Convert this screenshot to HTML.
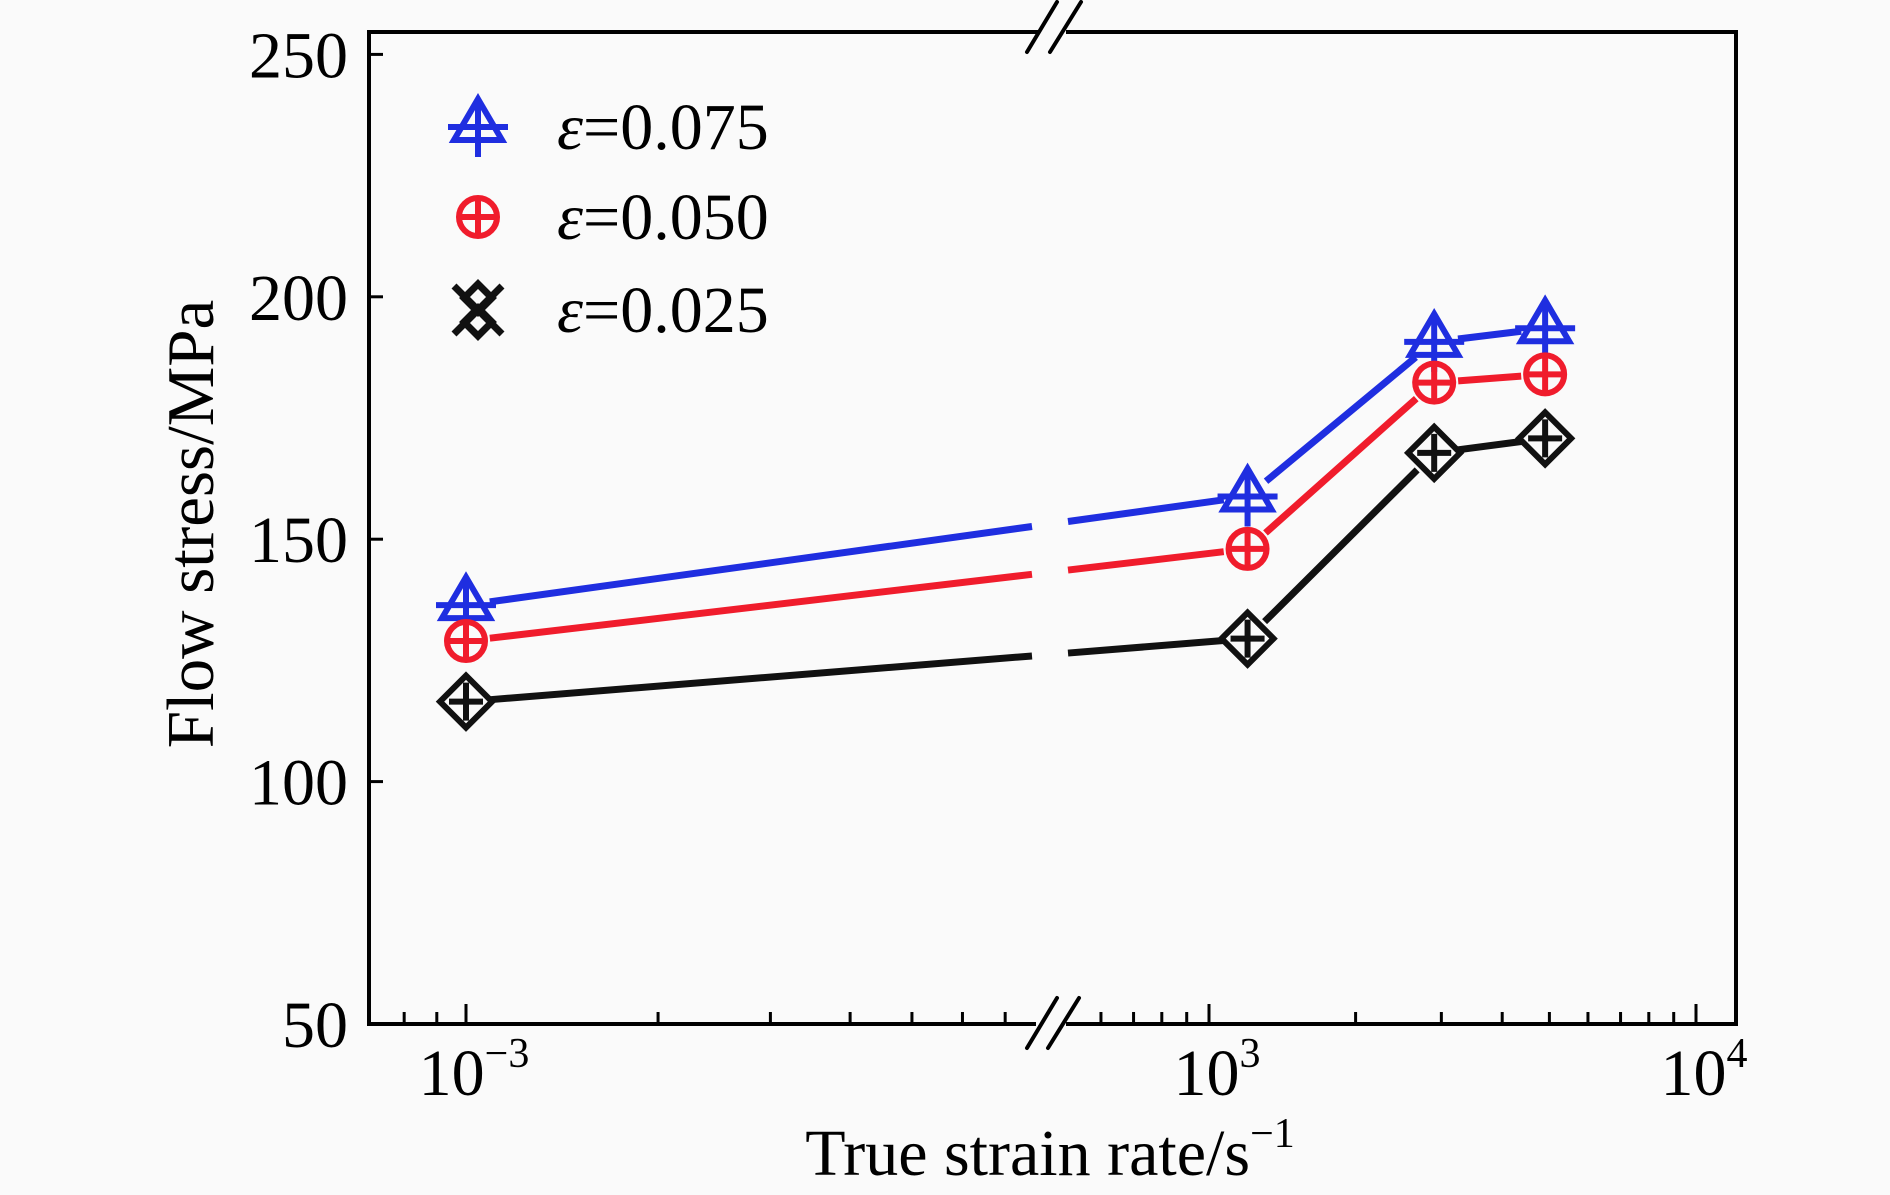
<!DOCTYPE html>
<html><head><meta charset="utf-8"><style>
html,body{margin:0;padding:0;background:#fafafa;}
svg{display:block;font-family:"Liberation Serif",serif;}
</style></head><body>
<svg id="chart" width="1890" height="1195" viewBox="0 0 1890 1195" xmlns="http://www.w3.org/2000/svg"></svg>
<script>
const rates = [0.001, 1200, 2900, 4900];
const stress075 = [136.4, 158.8, 190.7, 193.5];
const stress050 = [129, 148, 182.3, 184];
const stress025 = [116.5, 129.5, 167.8, 170.8];
const yTicks = [50, 100, 150, 200, 250];
const legendLabels = ['=0.075', '=0.050', '=0.025'];

const NS = 'http://www.w3.org/2000/svg';
const svg = document.getElementById('chart');
const L = 369, R = 1736, T = 32, B = 1024;
function yS(v){ return 1024 - (v - 50) * 242.4 / 50; }
function xS(v){
  if (v < 1) return 466 + 638 * Math.log10(v / 0.001);
  return 1209 + 487 * Math.log10(v / 1000);
}
function el(tag, attrs, parent){
  const e = document.createElementNS(NS, tag);
  for (const k in attrs) e.setAttribute(k, attrs[k]);
  (parent || svg).appendChild(e);
  return e;
}
const axes = el('g', {});


el('line', {x1:L, y1:T, x2:1038, y2:T, stroke:'#000', 'stroke-width':4}, axes);
el('line', {x1:1066, y1:T, x2:R, y2:T, stroke:'#000', 'stroke-width':4}, axes);
el('line', {x1:L, y1:B, x2:1036, y2:B, stroke:'#000', 'stroke-width':4}, axes);
el('line', {x1:1066, y1:B, x2:R, y2:B, stroke:'#000', 'stroke-width':4}, axes);
el('line', {x1:L, y1:T-2, x2:L, y2:B+2, stroke:'#000', 'stroke-width':4}, axes);
el('line', {x1:R, y1:T-2, x2:R, y2:B+2, stroke:'#000', 'stroke-width':4}, axes);
[[1027,52,1057,2],[1050,52,1081,2],[1027,1048,1057,998],[1048,1048,1079,998]].forEach(s=>{
  const b = el('line', {x1:s[0], y1:s[1], x2:s[2], y2:s[3], stroke:'#000', 'stroke-width':4, 'stroke-linecap':'round'}, axes);
  
  
});
yTicks.forEach(v=>{
  const y = yS(v);
  el('line', {x1:L, y1:y, x2:L+14, y2:y, stroke:'#000', 'stroke-width':3}, axes);
  const t = el('text', {x:348, y:y+23, 'text-anchor':'end', 'font-size':66}, axes);
  t.textContent = v;
  
  
});
const minorL = [0.0008,0.0009,0.002,0.003,0.004,0.005,0.006,0.007];
const minorR = [600,700,800,900,2000,3000,4000,5000,6000,7000,8000,9000];
minorL.concat(minorR).forEach(v=>{
  const x = xS(v);
  el('line', {x1:x, y1:B, x2:x, y2:B-12, stroke:'#000', 'stroke-width':3}, axes);
});
[0.001,1000,10000].forEach(v=>{
  const x = xS(v);
  el('line', {x1:x, y1:B, x2:x, y2:B-20, stroke:'#000', 'stroke-width':3}, axes);
});
const xl = [[0.001,'\u22123'],[1000,'3'],[10000,'4']];
xl.forEach(p=>{
  const t = el('text', {x:xS(p[0])+8, y:1095, 'text-anchor':'middle', 'font-size':66}, axes);
  
  
  const a = el('tspan', {}, t); a.textContent = '10';
  const b = el('tspan', {dy:-28, 'font-size':42}, t); b.textContent = p[1];
});
const xt = el('text', {x:1050, y:1175, 'text-anchor':'middle', 'font-size':66});


el('tspan', {}, xt).textContent = 'True strain rate/s';
el('tspan', {dy:-28, 'font-size':42}, xt).textContent = '\u22121';
const yt = el('text', {x:0, y:0, 'text-anchor':'middle', 'font-size':67, transform:'translate(213,524) rotate(-90)'});
yt.textContent = 'Flow stress/MPa';



function marker(kind, cx, cy, color, parent){
  const g = el('g', {fill:'none', stroke:color, 'stroke-width':6}, parent);
  if (kind === 'tri'){
    el('polygon', {points:`${cx},${cy-28} ${cx+24},${cy+13} ${cx-24},${cy+13}`}, g);
    el('line', {x1:cx-30, y1:cy, x2:cx+30, y2:cy}, g);
    el('line', {x1:cx, y1:cy-28, x2:cx, y2:cy+30}, g);
  } else if (kind === 'circ'){
    el('circle', {cx:cx, cy:cy, r:19}, g);
    el('line', {x1:cx-19, y1:cy, x2:cx+19, y2:cy}, g);
    el('line', {x1:cx, y1:cy-19, x2:cx, y2:cy+19}, g);
  } else {
    el('polygon', {points:`${cx},${cy-26} ${cx+26},${cy} ${cx},${cy+26} ${cx-26},${cy}`}, g);
    el('line', {x1:cx-17, y1:cy, x2:cx+17, y2:cy}, g);
    el('line', {x1:cx, y1:cy-19, x2:cx, y2:cy+19}, g);
  }
  return g;
}
const series = [
  {name:'series-eps-0.075', vals:stress075, color:'#1f2ee0', kind:'tri'},
  {name:'series-eps-0.050', vals:stress050, color:'#f01c2c', kind:'circ'},
  {name:'series-eps-0.025', vals:stress025, color:'#111111', kind:'dia'}
];
series.forEach(s=>{
  const g = el('g', {});
  
  
  const pts = rates.map((r,i)=>[xS(r), yS(s.vals[i])]);
  for (let i=0;i<pts.length-1;i++){
    const [x1,y1] = pts[i], [x2,y2] = pts[i+1];
    const dx=x2-x1, dy=y2-y1, len=Math.hypot(dx,dy), ux=dx/len, uy=dy/len;
    const sx=x1+ux*24, sy=y1+uy*24, ex=x2-ux*24, ey=y2-uy*24;
    if (x1 < 1040 && x2 > 1066){
      const t1=(1032-x1)/dx, t2=(1068-x1)/dx;
      el('line', {x1:sx, y1:sy, x2:1032, y2:y1+dy*t1, stroke:s.color, 'stroke-width':7}, g);
      el('line', {x1:1068, y1:y1+dy*t2, x2:ex, y2:ey, stroke:s.color, 'stroke-width':7}, g);
    } else {
      el('line', {x1:sx, y1:sy, x2:ex, y2:ey, stroke:s.color, 'stroke-width':7}, g);
    }
  }
  pts.forEach(p=>{
    const m = marker(s.kind, p[0], p[1], s.color, g);
    
    
  });
});
const lg = el('g', {});


const ly = [127, 217, 310];
series.forEach((s,i)=>{
  const e = el('g', {}, lg);
  
  
  if (s.kind === 'dia'){
    const g = el('g', {fill:'none', stroke:s.color, 'stroke-width':7}, e);
    const cx=478, cy=ly[i];
    el('path', {d:`M${cx-24},${cy-24} L${cx+24},${cy+24} M${cx+24},${cy-24} L${cx-24},${cy+24} M${cx},${cy-26} L${cx+14},${cy-12} L${cx},${cy+2} L${cx-14},${cy-12} Z M${cx},${cy+26} L${cx+14},${cy+12} L${cx},${cy-2} L${cx-14},${cy+12} Z`}, g);
  } else {
    marker(s.kind, 478, ly[i], s.color, e);
  }
  const t = el('text', {x:557, y:ly[i]+22, 'font-size':66}, e);
  el('tspan', {'font-style':'italic'}, t).textContent = '\u03b5';
  el('tspan', {}, t).textContent = legendLabels[i];
});
</script>
</body></html>
